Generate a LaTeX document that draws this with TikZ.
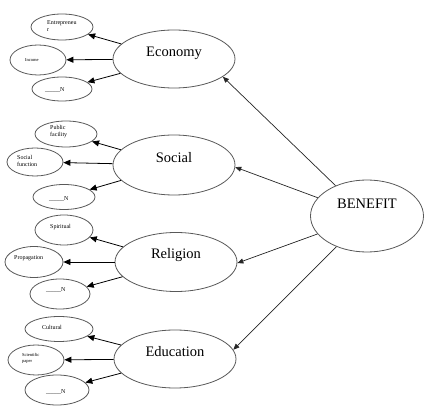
\documentclass[tikz,border=0pt]{standalone}
\usepackage{fontspec}
\setmainfont{Liberation Serif}
\usetikzlibrary{shapes.geometric,arrows.meta}
\begin{document}
\begin{tikzpicture}[x=1pt,y=-1pt,
  ell/.style={draw=black!65, line width=0.8pt, ellipse, inner sep=0pt},
  bigtxt/.style={font=\fontsize{14.5}{16}\selectfont, inner sep=0pt},
  smalltxt/.style={font=\fontsize{6}{7}\selectfont, inner sep=0pt, anchor=west, align=left},
  tinytxt/.style={font=\fontsize{4.5}{5.5}\selectfont, inner sep=0pt, anchor=west, align=left},
  arr/.style={draw=black, line width=0.8pt, -{Triangle[length=7pt,width=6pt]}},
  arrb/.style={draw=black!85, line width=0.7pt, -{Triangle[length=6pt,width=5pt]}}]
\useasboundingbox (0,0) rectangle (424,406);
\fill[white] (0,0) rectangle (424,406);

% big ellipses
\node[ell, minimum width=122pt, minimum height=58pt] (eco) at (174,59) {};
\node[ell, minimum width=122pt, minimum height=60pt] (soc) at (174,165) {};
\node[ell, minimum width=122pt, minimum height=59pt] (rel) at (176,262) {};
\node[ell, minimum width=122pt, minimum height=58pt] (edu) at (175,359) {};
\node[ell, minimum width=113pt, minimum height=72pt] (ben) at (367,216) {};

\node[bigtxt] (ecoT) at (174,53) {Economy};
\node[bigtxt] (socT) at (174,158) {Social};
\node[bigtxt] (relT) at (176,255) {Religion};
\node[bigtxt] (eduT) at (175,352) {Education};
\node[bigtxt] (benT) at (367,204) {BENEFIT};

% small ellipses
\node[ell, minimum width=62pt, minimum height=26pt] (ent) at (62,27) {};
\node[ell, minimum width=56pt, minimum height=30pt] (inc) at (38,60) {};
\node[ell, minimum width=60pt, minimum height=24pt] (ecn) at (62,89) {};

\node[ell, minimum width=62pt, minimum height=26pt] (pub) at (66,134) {};
\node[ell, minimum width=56pt, minimum height=28pt] (sfn) at (35,162) {};
\node[ell, minimum width=62pt, minimum height=25pt] (scn) at (64,197) {};

\node[ell, minimum width=58pt, minimum height=30pt] (spi) at (64,230) {};
\node[ell, minimum width=58pt, minimum height=31pt] (pro) at (34,262) {};
\node[ell, minimum width=60pt, minimum height=30pt] (rln) at (60,294) {};

\node[ell, minimum width=68pt, minimum height=25pt] (cul) at (59,329) {};
\node[ell, minimum width=56pt, minimum height=30pt] (sci) at (36,360) {};
\node[ell, minimum width=64pt, minimum height=30pt] (edn) at (57,390) {};

% small texts
\node[smalltxt] (entT) at (47,26.5) {Entrepreneu\\r};
\node[tinytxt] (incT) at (25,60) {Income};
\node[smalltxt] (ecnT) at (45,90) {\_\_\_\_\_N};

\node[smalltxt] (pubT) at (50,131.5) {Public\\facility};
\node[smalltxt] (sfnT) at (17,160.5) {Social\\function};
\node[smalltxt] (scnT) at (49,199) {\_\_\_\_\_N};

\node[smalltxt] (spiT) at (50,227) {Spiritual};
\node[smalltxt] (proT) at (14,258) {Propagation};
\node[smalltxt] (rlnT) at (46,290) {\_\_\_\_\_N};

\node[smalltxt] (culT) at (42,327) {Cultural};
\node[tinytxt] (sciT) at (22,358.5) {Scientific\\paper};
\node[smalltxt] (ednT) at (46,392) {\_\_\_\_\_N};

% arrows from categories
\draw[arr] (eco) -- (ent);
\draw[arr] (eco) -- (inc);
\draw[arr] (eco) -- (ecn);
\draw[arr] (soc) -- (pub);
\draw[arr] (soc) -- (sfn);
\draw[arr] (soc) -- (scn);
\draw[arr] (rel) -- (spi);
\draw[arr] (rel) -- (pro);
\draw[arr] (rel) -- (rln);
\draw[arr] (edu) -- (cul);
\draw[arr] (edu) -- (sci);
\draw[arr] (edu) -- (edn);

% arrows from BENEFIT
\draw[arrb] (ben) -- (eco.-20);
\draw[arrb] (ben) -- (soc.-2);
\draw[arrb] (ben) -- (rel.-1);
\draw[arrb] (ben) -- (edu.9);
\end{tikzpicture}
\end{document}
